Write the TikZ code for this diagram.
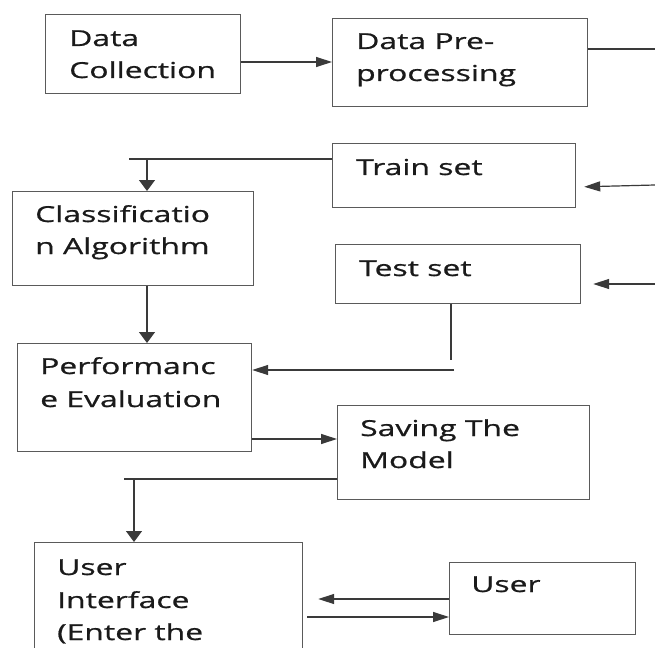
\documentclass[tikz,border=0pt]{standalone}
\usepackage{fontspec}
\setmainfont{Open Sans}[FakeStretch=1.45,FakeBold=0.8]
\usetikzlibrary{arrows.meta}
\definecolor{boxc}{HTML}{5A5A5A}
\definecolor{linec}{HTML}{3A3A3A}
\definecolor{txtc}{HTML}{1A1A1A}
\tikzset{
  box/.style={draw=boxc, line width=1.2pt, rectangle, anchor=north west, inner sep=0pt},
  lbl/.style={anchor=base west, inner sep=0pt, text=txtc, font=\fontsize{22}{26}\selectfont},
  conn/.style={draw=linec, line width=1.2pt},
  harr/.style={conn, -{Triangle[length=16pt,width=10pt]}},
  varr/.style={conn, -{Triangle[length=11pt,width=16pt]}}
}
\begin{document}
\begin{tikzpicture}[x=1pt,y=-1pt]
\clip (0,0) rectangle (655,647);
\fill[white] (0,0) rectangle (655,647);
% boxes
\node[box, minimum width=195pt, minimum height=79pt] (dc) at (45,14) {};
\node[box, minimum width=255pt, minimum height=88pt] (dp) at (332,18) {};
\node[box, minimum width=243pt, minimum height=64pt] (ts) at (332,143) {};
\node[box, minimum width=241pt, minimum height=94pt] (ca) at (12,191) {};
\node[box, minimum width=245pt, minimum height=59pt] (te) at (335,244) {};
\node[box, minimum width=234pt, minimum height=108pt] (pe) at (17,343) {};
\node[box, minimum width=252pt, minimum height=94pt] (sm) at (337,405) {};
\node[box, minimum width=268pt, minimum height=140pt] (ui) at (34,542) {};
\node[box, minimum width=186pt, minimum height=72pt] (us) at (449,562) {};
% labels
\node[lbl] (t1a) at (69,46) {Data};
\node[lbl] (t1b) at (69,78) {Collection};
\node[lbl] (t2a) at (356,49) {Data Pre-};
\node[lbl] (t2b) at (356,81) {processing};
\node[lbl] (t3) at (356,175) {Train set};
\node[lbl] (t4a) at (35,222) {Classificatio};
\node[lbl] (t4b) at (35,254) {n Algorithm};
\node[lbl] (t5) at (359,276) {Test set};
\node[lbl] (t6a) at (40,374) {Performanc};
\node[lbl] (t6b) at (40,407) {e Evaluation};
\node[lbl] (t7a) at (360,436) {Saving The};
\node[lbl] (t7b) at (360,468) {Model};
\node[lbl] (t8a) at (57,575) {User};
\node[lbl] (t8b) at (57,608) {Interface};
\node[lbl] (t8c) at (57,640) {(Enter the};
\node[lbl] (t9) at (471,592) {User};
% free ends and junctions
\coordinate (r1) at (655,49);
\coordinate (r2) at (655,185);
\coordinate (r3) at (655,284);
\coordinate (j1) at (129,159);
\coordinate (j1v) at (147,159);
\coordinate (j2) at (451,360);
\coordinate (j2h) at (454,370);
\coordinate (j3) at (124,479);
\coordinate (j3v) at (134,479);
% connectors
\draw[harr] (dc.east |- 0,62) -- (dp.west |- 0,62);
\draw[conn] (dp.east |- 0,49) -- (r1);
\draw[harr, shorten >=8pt] (r2) -- (ts.east |- 0,187);
\draw[harr, shorten >=12pt] (r3) -- (te.east |- 0,284);
\draw[conn] (ts.west |- 0,159) -- (j1);
\draw[varr] (j1v) -- (ca.north -| j1v);
\draw[varr] (ca.south -| j1v) -- (pe.north -| j1v);
\draw[conn] (te.south -| j2) -- (j2);
\draw[harr] (j2h) -- (pe.east |- j2h);
\draw[harr] (pe.east |- 0,439) -- (sm.west |- 0,439);
\draw[conn] (sm.west |- 0,479) -- (j3);
\draw[varr] (j3v) -- (ui.north -| j3v);
\draw[harr, shorten >=15pt] (us.west |- 0,599) -- (ui.east |- 0,599);
\draw[harr, shorten <=4pt] (ui.east |- 0,617) -- (us.west |- 0,617);
\end{tikzpicture}
\end{document}
